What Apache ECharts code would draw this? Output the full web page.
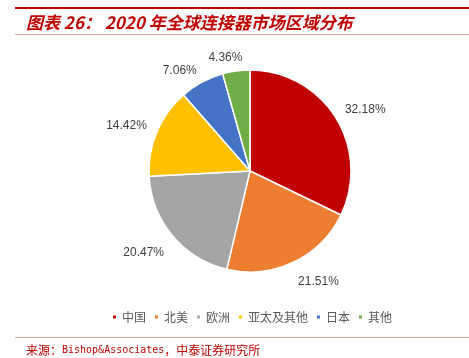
<!DOCTYPE html>
<html><head><meta charset="utf-8">
<script src="https://cdn.jsdelivr.net/npm/echarts@6/dist/echarts.min.js"></script>
<style>html,body{margin:0;padding:0;background:#fff}#c{width:469px;height:358px}</style>
</head><body><div id="c"></div>
<script>
const categories = ['中国','北美','欧洲','亚太及其他','日本','其他'];
const values = [32.18, 21.51, 20.47, 14.42, 7.06, 4.36];
const colors = ['#C00000','#ED7D31','#A5A5A5','#FFC000','#4472C4','#70AD47'];

const CX = 250, CY = 171, R = 101, GAP = 11, YSHIFT = 4;
const total = values.reduce((a,b)=>a+b,0);
const midAngles = [];
{ let acc = 0; values.forEach(v=>{ midAngles.push((acc + v/2)/total*2*Math.PI); acc += v; }); }
const clamp = v => Math.max(-1, Math.min(1, v));

function placeLabel(params){
  const th = midAngles[params.dataIndex];
  const dx = Math.sin(th), dy = -Math.cos(th);
  const hw = params.labelRect.width/2, hh = params.labelRect.height/2;
  const px = (R + GAP)*dx, py = (R + GAP)*dy;
  return {x: CX + px + hw*clamp(4*dx), y: CY + YSHIFT + py + hh*clamp(4*dy), align:'center', verticalAlign:'middle'};
}

const chart = echarts.init(document.getElementById('c'));
chart.setOption({
  animation:false,
  color: colors,
  graphic:[
    {type:'rect',shape:{x:15,y:7,width:454,height:2},style:{fill:'#C00000'}},
    {type:'rect',shape:{x:15,y:34,width:454,height:1},style:{fill:'#E8A0A0'}},
    {type:'text',left:26,top:14,style:{text:'图表 26： 2020 年全球连接器市场区域分布',fill:'#C00000',font:'italic bold 17px "Noto Sans CJK SC", sans-serif'}},
    {type:'rect',shape:{x:15,y:337,width:454,height:1},style:{fill:'#E8A0A0'}},
    {type:'text',left:26,top:344,style:{
      text:'{c|来源：}{m|Bishop&Associates}{c|，中泰证券研究所}',
      fill:'#C00000',
      rich:{
        c:{fontSize:12,fontFamily:'"Noto Sans CJK SC", sans-serif',fill:'#C00000'},
        m:{fontSize:10,fontFamily:'"DejaVu Sans Mono", monospace',fill:'#C00000'}
      }
    }}
  ],
  legend:{
    bottom:30, left:106, itemWidth:5, itemHeight:5, itemGap:7,
    icon:'rect',
    textStyle:{color:'#595959',fontSize:12,fontFamily:'"Noto Sans CJK SC", sans-serif'},
    data:categories
  },
  series:[{
    type:'pie',
    center:[CX,CY],
    radius:[0,R],
    startAngle:90,
    clockwise:true,
    data:categories.map((n,i)=>({name:n,value:values[i]})),
    itemStyle:{borderColor:'#fff',borderWidth:1.5},
    label:{show:true,position:'outside',formatter:p=>p.value.toFixed(2)+'%',color:'#404040',fontSize:12,fontFamily:'Arial, "Liberation Sans", sans-serif'},
    labelLine:{show:false,length:8,length2:0},
    labelLayout: placeLabel
  }]
});
</script></body></html>
